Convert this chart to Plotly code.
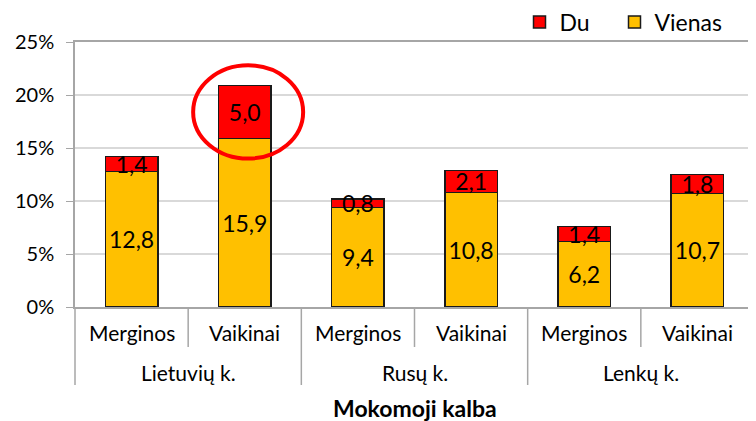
import plotly.graph_objects as go

groups = ["Lietuvių k.", "Lietuvių k.", "Rusų k.", "Rusų k.", "Lenkų k.", "Lenkų k."]
genders = ["Merginos", "Vaikinai", "Merginos", "Vaikinai", "Merginos", "Vaikinai"]
vienas = [12.8, 15.9, 9.4, 10.8, 6.2, 10.7]
du = [1.4, 5.0, 0.8, 2.1, 1.4, 1.8]
y_ticks = [0, 5, 10, 15, 20, 25]
axis_title = "Mokomoji kalba"

FONT = "Lato"
GRAY = "#a6a6a6"
OFF = 8  # default page body margin
W, H = 756 - OFF, 421 - OFF
x = [groups, genders]
n = len(genders)
PLOT_H = 265  # px height of plot area

fig = go.Figure()
for name, vals, col, leg in [("Vienas", vienas, "#FFC000", "legend2"),
                             ("Du", du, "#FF0000", "legend")]:
    fig.add_trace(go.Bar(
        x=x, y=vals, name=name, legend=leg,
        marker=dict(color=col, line=dict(color="#1a1a1a", width=1.5)),
        texttemplate="%{y:.1f}", textposition="inside", insidetextanchor="middle",
        constraintext="none", textangle=0,
        textfont=dict(family=FONT, size=23, color="black"),
    ))

shapes = []
annotations = []
for i in range(1, n, 2):
    xp = i / n
    shapes.append(dict(type="line", xref="paper", yref="paper", x0=xp, x1=xp,
                       y0=0, y1=-40 / PLOT_H, line=dict(color=GRAY, width=1.5)))
for i in range(0, n + 1, 2):
    xp = i / n
    shapes.append(dict(type="line", xref="paper", yref="paper", x0=xp, x1=xp,
                       y0=0, y1=-78 / PLOT_H, line=dict(color=GRAY, width=1.5)))
for i, g in enumerate(genders):
    annotations.append(dict(text=g, xref="paper", yref="paper", x=(i + 0.5) / n, y=0,
                            yshift=-25, showarrow=False, xanchor="center", yanchor="middle",
                            font=dict(size=21)))
for i in range(0, n, 2):
    annotations.append(dict(text=groups[i], xref="paper", yref="paper", x=(i + 1) / n, y=0,
                            yshift=-65, showarrow=False, xanchor="center", yanchor="middle",
                            font=dict(size=21)))
annotations.append(dict(text="<b>" + axis_title + "</b>", xref="paper", yref="paper",
                        x=0.5, y=0, yshift=-101, showarrow=False, xanchor="center",
                        yanchor="middle", font=dict(size=23)))

hi = 1
cy = vienas[hi] + du[hi] / 2
cx = (hi + 0.5) / n + 0.005
shapes.append(dict(type="circle", xref="paper", yref="y",
                   x0=cx - 0.081, x1=cx + 0.081, y0=cy - 4.4, y1=cy + 4.4,
                   line=dict(color="#FF0000", width=4)))

leg_common = dict(orientation="h", xref="container", yref="container", xanchor="left",
                  yanchor="middle", y=1 - (22 - OFF) / H, font=dict(size=23),
                  bgcolor="rgba(0,0,0,0)")

fig.update_layout(
    width=W, height=H,
    margin=dict(l=75 - OFF, r=2, t=42 - OFF, b=114, autoexpand=False),
    barmode="stack", bargap=0.535,
    separators=", ",
    paper_bgcolor="white", plot_bgcolor="white",
    font=dict(family=FONT, size=20, color="black"),
    showlegend=True,
    legend=dict(x=(519.5 - OFF) / W, **leg_common),
    legend2=dict(x=(614.5 - OFF) / W, **leg_common),
    shapes=shapes,
    annotations=annotations,
    xaxis=dict(
        type="multicategory", showline=True, linecolor=GRAY, linewidth=1.5,
        mirror=True, showgrid=False, ticks="", showticklabels=False,
        showdividers=False, automargin=False,
    ),
    yaxis=dict(
        range=[0, 25], tickvals=y_ticks, ticktext=[f"{v}%" for v in y_ticks],
        showgrid=True, gridcolor="#d9d9d9", gridwidth=1.5, showline=True,
        linecolor=GRAY, linewidth=1.5, mirror=True, ticks="outside", ticklen=7,
        tickcolor=GRAY, tickfont=dict(size=20), zeroline=False, automargin=False,
        ticklabelstandoff=8,
    ),
)

fig.write_html("out.html")
